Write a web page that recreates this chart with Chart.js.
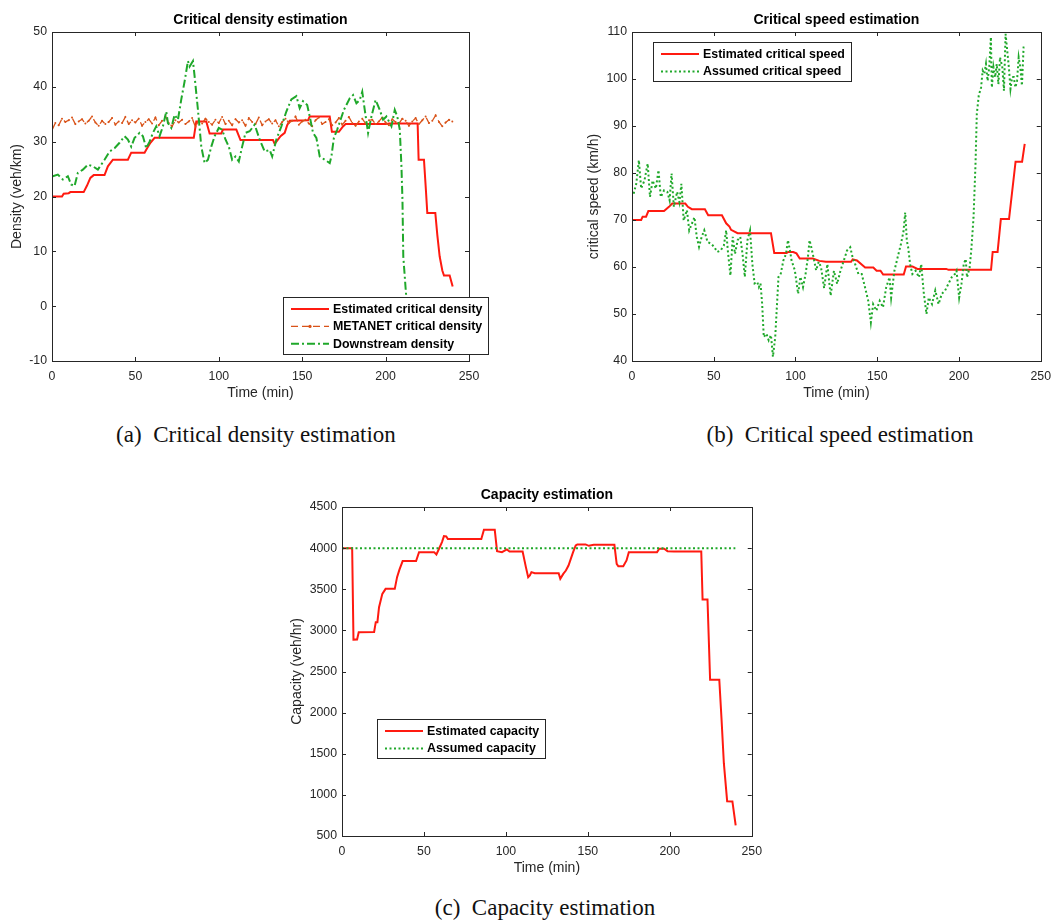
<!DOCTYPE html>
<html>
<head>
<meta charset="utf-8">
<title>Critical density, speed and capacity estimation</title>
<script src="https://cdn.jsdelivr.net/npm/chart.js@4.4.0/dist/chart.umd.min.js"></script>
<style>
  body { margin: 0; background: #fff; overflow: hidden; }
  #page { position: relative; width: 1059px; height: 923px; }
  canvas { position: absolute; }
  .caption {
    position: absolute;
    width: 420px;
    text-align: center;
    font-family: "Liberation Serif", "DejaVu Serif", serif;
    font-size: 23px;
    line-height: 26px;
    color: #111;
    white-space: nowrap;
  }
</style>
</head>
<body>
<div id="page">
  <canvas id="densityChart" width="490" height="410" style="left:0;top:0"></canvas>
  <canvas id="speedChart" width="489" height="410" style="left:570px;top:0"></canvas>
  <canvas id="capacityChart" width="490" height="410" style="left:280px;top:475px"></canvas>
  <div class="caption" style="left:46px;top:422px">(a)&ensp;Critical density estimation</div>
  <div class="caption" style="left:630px;top:422px">(b)&ensp;Critical speed estimation</div>
  <div class="caption" style="left:335px;top:895px">(c)&ensp;Capacity estimation</div>
</div>
<script>
// tick labels
const timeTicks = [0, 50, 100, 150, 200, 250];
const densityTicks = [-10, 0, 10, 20, 30, 40, 50];
const speedTicks = [40, 50, 60, 70, 80, 90, 100, 110];
const capacityTicks = [500, 1000, 1500, 2000, 2500, 3000, 3500, 4000, 4500];

// (a) density, veh/km
const estDensityTime = [0, 6, 7, 10, 11, 19, 21, 23, 25, 31.5, 33.5, 36.5, 45.5, 47.5, 55.5, 57, 59, 61.5, 85, 86.5, 92.5, 94.5, 101.5, 102.5, 110.5, 113, 132.5, 133.5, 135, 137, 139.5, 141, 142.5, 153.5, 154.5, 166.5, 167.8, 172, 174, 176, 200, 202, 219.2, 219.8, 223, 224.2, 225, 229.8, 231, 232.4, 234, 235, 238.4, 240.2];
const estDensity = [20, 20, 20.5, 20.6, 20.8, 20.8, 22, 23.4, 23.9, 23.9, 25.5, 26.7, 26.7, 28, 28, 28.8, 29.8, 30.7, 30.7, 33.7, 33.7, 31.5, 31.5, 32.2, 32.2, 30.3, 30.3, 29.6, 30.2, 31, 31.6, 33, 33.8, 33.9, 34.6, 34.6, 31.8, 31.8, 32.6, 33.2, 33.2, 33.3, 33.3, 26.7, 26.7, 21, 17, 17, 13, 9.1, 6.5, 5.6, 5.6, 3.6];

const metanetTime = [0, 2, 4, 6, 8, 10, 12, 14, 16, 18, 20, 22, 24, 26, 28, 30, 32, 34, 36, 38, 40, 42, 44, 46, 48, 50, 52, 54, 56, 58, 60, 62, 64, 66, 68, 70, 72, 74, 76, 78, 80, 82, 84, 86, 88, 90, 92, 94, 96, 98, 100, 102, 104, 106, 108, 110, 112, 114, 116, 118, 120, 122, 124, 126, 128, 130, 132, 134, 136, 138, 140, 142, 144, 146, 148, 150, 152, 154, 156, 158, 160, 162, 164, 166, 168, 170, 172, 174, 176, 178, 180, 182, 184, 186, 188, 190, 192, 194, 196, 198, 200, 202, 204, 206, 208, 210, 212, 214, 216, 218, 220, 222, 224, 226, 228, 230, 232, 234, 236, 238, 240];
const metanetDensity = [32.1, 33.4, 33.0, 34.2, 33.6, 33.9, 34.4, 33.2, 33.7, 34.1,
  33.3, 33.8, 34.6, 33.5, 32.9, 33.8, 33.2, 33.6, 34.3, 33.1,
  33.7, 33.4, 34.5, 33.2, 33.9, 33.5, 34.2, 32.9, 33.6, 34.1,
  33.3, 34.4, 33.0, 33.8, 34.6, 33.4, 32.8, 33.9, 33.5, 34.0,
  33.2, 33.7, 34.3, 32.7, 33.9, 33.3, 34.2, 33.6, 33.1, 34.0,
  33.4, 34.5, 33.2, 33.8, 33.0, 34.1, 33.5, 33.9, 32.9, 34.3,
  33.6, 33.2, 34.4, 33.0, 33.7, 34.1, 33.3, 33.9, 32.8, 33.6,
  34.2, 33.4, 33.8, 34.6, 33.1, 33.7, 34.0, 33.3, 32.8, 33.9,
  34.4, 33.2, 33.6, 34.1, 33.0, 33.5, 34.3, 33.1, 33.8, 34.5,
  33.4, 32.9, 33.7, 34.2, 33.3, 33.9, 34.0, 33.2, 33.7, 34.4,
  33.5, 33.0, 34.1, 33.6, 33.3, 34.2, 33.8, 32.9, 33.7, 34.3,
  33.2, 33.9, 34.6, 33.4, 33.8, 34.8, 33.6, 32.8, 33.5, 34.0,
  33.7];

const downstreamTime = [0.5, 3.5, 6.5, 9.5, 11.5, 13.5, 15.5, 18.5, 21.5, 24.5,
  27.5, 29.5, 31.5, 34.5, 37.5, 40.5, 43.5, 45.5, 47.5, 49.5,
  52.5, 54.5, 56.5, 58.5, 60.5, 62.5, 64.5, 66.5, 68.5, 69.5,
  71.5, 73.5, 75.5, 77.5, 79.5, 81.5, 82.5, 84.5, 85.5, 87.5,
  89.5, 91.5, 93.5, 95.5, 97.5, 100, 102, 104, 106, 108,
  110, 112, 114, 116, 118.5, 121.5, 124.5, 127.5, 130.5, 132,
  134.5, 137.5, 140.5, 143.5, 146.5, 148.5, 150.5, 153, 154.5, 156.5,
  158.5, 160.5, 163.5, 166.5, 167.5, 169, 171, 173, 175, 178.5,
  180.5, 182.5, 184.5, 186, 187.5, 189.5, 191.5, 194, 196.5, 198.5,
  200.5, 203.5, 205.5, 207, 208.5, 209.5, 210.1, 210.6, 212.2, 213];
const downstreamDensity = [23.7, 24, 23.1, 23.7, 22.2, 21.9, 24.3, 24.9, 25.8, 25.5,
  24.9, 25.8, 26.7, 28.2, 28.8, 29.8, 31, 30.4, 29.1, 30.7,
  31.6, 31, 28.8, 30, 31.6, 32.8, 31, 32.8, 35.5, 33.4,
  32.5, 34.9, 34, 37.7, 41, 44.7, 43.7, 44.7, 41.9, 35.8,
  29.1, 26.1, 26.7, 29.1, 31, 32.5, 32.2, 30.4, 29.1, 26.7,
  27.3, 26.4, 29.1, 31.6, 31.9, 33.1, 30.4, 28.2, 28.5, 27.3,
  30.4, 32.8, 35.5, 37.7, 38.3, 36.1, 37.4, 36.7, 34.6, 31.6,
  30.7, 27.3, 26.7, 26.1, 27.3, 30.7, 32.2, 34, 35.8, 37.9,
  38.5, 37, 37.6, 39.1, 35.8, 31.6, 34.6, 37.6, 35.8, 34,
  34.6, 32.8, 35.8, 34.6, 32.2, 25.5, 19.5, 9.1, 2.4, 0];

// (b) speed, km/h
const estSpeedTime = [0, 5.6, 6.5, 8.6, 10, 19.6, 22.6, 24.6, 32.6, 34.2,
  36.6, 44.6, 46.6, 55, 57.6, 59.6, 60.6, 64.6, 85, 87,
  94.6, 95.6, 98.6, 100.6, 102.6, 110.6, 114.6, 118.6, 134, 135,
  137.6, 142.6, 147.6, 149.6, 152, 153.6, 166.2, 167.6, 171.6, 174.6,
  192.2, 193.6, 219.6, 220.6, 223.6, 225.6, 230.6, 234.6, 238.6, 240.2];
const estSpeed = [70, 70, 70.7, 70.7, 71.9, 71.9, 72.8, 73.5, 73.5, 72.8,
  72.3, 72.3, 71, 71, 69.3, 68.6, 67.9, 67.2, 67.2, 63,
  63, 63.2, 63.2, 62.9, 61.8, 61.8, 61.3, 61.1, 61.1, 61.6,
  61.4, 59.9, 59.9, 59.2, 59.2, 58.4, 58.4, 60.1, 60.1, 59.6,
  59.6, 59.4, 59.4, 63.2, 63.2, 70.2, 70.2, 82.4, 82.4, 86.2];

const assumedSpeedTime = [1, 2.6, 4.2, 5.6, 7.6, 9.6, 11, 12.6, 14.6, 16.2,
  17.6, 19.6, 21.6, 23, 24.2, 25.6, 27.6, 29, 30.2, 31.6,
  33.6, 35, 36.6, 38.2, 39.6, 41, 42.6, 44.2, 46.2, 48.2,
  50.2, 52.2, 54.2, 56.2, 57.6, 58.6, 60.2, 61.6, 63, 64.6,
  66.2, 67.6, 69, 70.6, 72.2, 73.6, 75, 76.6, 77.6, 78.6,
  79.6, 80.6, 82.2, 83.6, 85, 86.2, 87.6, 88.6, 89.6, 91,
  92.6, 94.2, 95.4, 96.6, 97.6, 99.6, 101.6, 103, 104.6, 106.2,
  107.6, 108.6, 109.6, 111, 112.6, 114.2, 115.6, 117.5, 119.5, 121.5,
  123.5, 125.5, 127.5, 129.5, 131.5, 133.5, 134.9, 136.5, 138.5, 140.5,
  142.5, 144.5, 146.1, 147.5, 149.5, 151.5, 153.5, 155.5, 157.5, 158.5,
  160.5, 162.5, 164.5, 166.1, 167.1, 168.1, 168.9, 170.1, 171.5, 173.5,
  175.5, 176.9, 178.5, 180.1, 181.5, 183.5, 185.5, 187.5, 189.5, 191.5,
  193.5, 195.5, 197.5, 198.5, 200.1, 201.5, 202.9, 204.1, 204.9, 206.5,
  207.5, 208.9, 210.1, 210.9, 212.1, 213.5, 214.5, 215.5, 216.5, 217.5,
  218.5, 219.5, 220.1, 221.1, 222.1, 223.1, 224.1, 225.1, 226.5, 227.5,
  228.5, 229.5, 230.5, 231.5, 232.5, 233.5, 234.5, 235.5, 236.5, 237.5,
  238.5, 239.5, 240];
const assumedSpeed = [75.6, 77.7, 82.7, 76.7, 78.4, 82, 74.9, 78.4, 76.7, 80.6,
  74.9, 76.3, 76, 74.2, 79.9, 72.8, 76, 73.8, 77.7, 69.9,
  72.1, 67.8, 69.2, 70.6, 66.4, 64.3, 66.4, 67.8, 65.3, 65,
  64.3, 63.2, 63.5, 64.6, 67.8, 63.5, 58.2, 66.4, 62.8, 65.7,
  66.4, 62.8, 57.9, 65.7, 67.8, 60.7, 56.5, 56.8, 55.7, 56.5,
  52.2, 45.1, 45.8, 44.4, 45.5, 40.9, 45.1, 51.5, 57.9, 58.6,
  61.4, 62.8, 65.7, 63.5, 61.4, 59.3, 54.3, 57.9, 55.7, 58.6,
  62.1, 65.7, 64.3, 62.1, 59.3, 61.1, 60, 55.5, 60.6, 53.9,
  59.2, 56.4, 59.2, 61.3, 63.5, 64.2, 62.1, 60.6, 58.5, 58.5,
  55.7, 52.8, 48.2, 52.1, 50.7, 52.8, 51.4, 55.7, 57.8, 53.5,
  59.2, 62.1, 64.9, 67.7, 71.6, 65.6, 64.2, 60.6, 58.5, 59.2,
  57.8, 60.6, 54.3, 50, 53.5, 52.1, 55, 52.1, 54.3, 55,
  56.4, 57.8, 58.5, 59.2, 53.5, 56.4, 60.6, 61.7, 57.8, 59.9,
  63.5, 70.6, 81.9, 92.6, 96.5, 98.2, 101.8, 101.1, 103.2, 99.6,
  102.5, 108.9, 98.2, 102.5, 100.4, 103.2, 98.9, 104.6, 102.5, 97.5,
  109.6, 106, 102.5, 97.9, 100.4, 100.4, 98.2, 99.6, 104.6, 102.5,
  98.6, 106.7, 106.7];

// (c) capacity, veh/hr
const estCapacityTime = [0, 6.2, 7, 9.2, 10.2, 19.6, 20.6, 21.6, 22.6, 24.6,
  26.6, 32.2, 33.6, 35, 37, 45.2, 47, 56.2, 57.6, 59.2,
  61, 62.2, 63.6, 64.6, 85, 86.6, 93.2, 94.6, 97.6, 100.6,
  102.2, 110.2, 112.2, 113.6, 114.6, 115.6, 117.6, 132.2, 133.2, 135,
  136.6, 138.2, 139.6, 141, 142.6, 143.6, 148.6, 150.6, 153.6, 166.2,
  167.6, 168.6, 171.6, 173.6, 175, 192.2, 193.6, 196.6, 198.6, 202.6,
  219.2, 220, 223, 224.6, 230.2, 231.6, 233, 235, 238.2, 240.2];
const estCapacity = [4000, 4000, 2888, 2890, 2977, 2980, 3100, 3100, 3281, 3444,
  3505, 3505, 3647, 3736, 3842, 3842, 3951, 3951, 3923, 3992,
  4073, 4146, 4142, 4110, 4110, 4223, 4223, 3963, 3951, 3984,
  3959, 3959, 3769, 3647, 3667, 3708, 3696, 3696, 3627, 3687,
  3728, 3789, 3870, 3951, 4032, 4045, 4045, 4028, 4040, 4040,
  3809, 3780, 3780, 3850, 3951, 3951, 3992, 3992, 3963, 3959,
  3959, 3375, 3375, 2400, 2400, 1909, 1382, 923, 920, 630];

const assumedCapacityTime = [0, 240];
const assumedCapacity = [4000, 4000];

const RED = '#ff1a10';
const ORANGE = '#d95319';
const GREEN = '#1fa82a';
const AXIS = '#262626';

Chart.defaults.font.family = '"Liberation Sans", Arial, Helvetica, sans-serif';
Chart.defaults.color = AXIS;

const toPoints = (xs, ys) => xs.map((x, i) => ({ x: x, y: ys[i] }));

// box around the axes with inward tick marks on all four sides
const boxFrame = {
  id: 'boxFrame',
  afterDatasetsDraw(chart) {
    const { ctx, chartArea: a, scales: { x, y } } = chart;
    ctx.save();
    ctx.strokeStyle = AXIS;
    ctx.lineWidth = 1;
    ctx.beginPath();
    x.ticks.forEach(t => {
      const px = Math.round(x.getPixelForValue(t.value)) + 0.5;
      ctx.moveTo(px, a.bottom); ctx.lineTo(px, a.bottom - 4);
      ctx.moveTo(px, a.top); ctx.lineTo(px, a.top + 4);
    });
    y.ticks.forEach(t => {
      const py = Math.round(y.getPixelForValue(t.value)) + 0.5;
      ctx.moveTo(a.left, py); ctx.lineTo(a.left + 4, py);
      ctx.moveTo(a.right, py); ctx.lineTo(a.right - 4, py);
    });
    ctx.stroke();
    ctx.strokeRect(Math.round(a.left) + 0.5, Math.round(a.top) + 0.5,
      Math.round(a.width), Math.round(a.height));
    ctx.restore();
  }
};

// boxed legend placed at a fixed spot over the plot
const boxLegend = {
  id: 'boxLegend',
  afterDraw(chart, args, opts) {
    const { ctx } = chart;
    const sets = chart.data.datasets;
    ctx.save();
    ctx.font = 'bold 12.4px "Liberation Sans", Arial, sans-serif';
    const textW = Math.max(...sets.map(d => ctx.measureText(d.label).width));
    const w = Math.round(50 + textW + 6);
    const h = Math.round(22 + 17.4 * (sets.length - 1));
    ctx.fillStyle = '#fff';
    ctx.fillRect(opts.x, opts.y, w, h);
    ctx.strokeStyle = AXIS;
    ctx.lineWidth = 1;
    ctx.strokeRect(opts.x + 0.5, opts.y + 0.5, w, h);
    sets.forEach((d, i) => {
      const cy = opts.y + 12 + 17.4 * i;
      ctx.strokeStyle = d.borderColor;
      ctx.lineWidth = d.borderWidth;
      ctx.setLineDash(d.borderDash || []);
      ctx.beginPath();
      ctx.moveTo(opts.x + 8, cy);
      ctx.lineTo(opts.x + 46, cy);
      ctx.stroke();
      ctx.setLineDash([]);
      if (d.pointRadius > 0) {
        ctx.fillStyle = d.borderColor;
        ctx.beginPath();
        ctx.arc(opts.x + 27, cy, 1.6, 0, Math.PI * 2);
        ctx.fill();
      }
      ctx.fillStyle = '#000';
      ctx.textBaseline = 'middle';
      ctx.fillText(d.label, opts.x + 50, cy + 0.5);
    });
    ctx.restore();
  }
};

function panel(id, cfg) {
  return new Chart(id, {
    type: 'line',
    data: { datasets: cfg.datasets },
    options: {
      responsive: false,
      animation: false,
      events: [],
      layout: { padding: { right: cfg.padRight } },
      plugins: {
        legend: { display: false },
        tooltip: { enabled: false },
        title: {
          display: true,
          text: cfg.title,
          fullSize: false,
          color: '#000',
          font: { size: 14, weight: 'bold' },
          padding: { top: 12, bottom: 3.2 }
        },
        boxLegend: cfg.legendAt
      },
      scales: {
        x: {
          type: 'linear',
          min: timeTicks[0],
          max: timeTicks[timeTicks.length - 1],
          afterBuildTicks: s => { s.ticks = timeTicks.map(v => ({ value: v })); },
          afterFit: s => { s.height = 49; },
          grid: { display: false, drawTicks: false },
          border: { display: false },
          ticks: { padding: 8, color: AXIS, font: { size: 12.3 }, maxRotation: 0, autoSkip: false, callback: v => String(v) },
          title: { display: true, text: 'Time (min)', color: AXIS, font: { size: 14 }, padding: { top: 0, bottom: 8.3 } }
        },
        y: {
          type: 'linear',
          min: cfg.yTicks[0],
          max: cfg.yTicks[cfg.yTicks.length - 1],
          afterBuildTicks: s => { s.ticks = cfg.yTicks.map(v => ({ value: v })); },
          afterFit: s => { s.width = cfg.yWidth; },
          grid: { display: false, drawTicks: false },
          border: { display: false },
          ticks: { padding: 5, color: AXIS, font: { size: 12.3 }, autoSkip: false, callback: v => String(v) },
          title: { display: true, text: cfg.yTitle, color: AXIS, font: { size: 14 }, padding: { top: cfg.yTitlePad, bottom: 0 } }
        }
      }
    },
    plugins: [boxFrame, boxLegend]
  });
}

panel('densityChart', {
  title: 'Critical density estimation',
  yTitle: 'Density (veh/km)',
  yTicks: densityTicks,
  yWidth: 52,
  yTitlePad: 9.1,
  padRight: 21,
  legendAt: { x: 283, y: 297 },
  datasets: [
    { label: 'Estimated critical density', data: toPoints(estDensityTime, estDensity),
      borderColor: RED, borderWidth: 2, pointRadius: 0, order: 3 },
    { label: 'METANET critical density', data: toPoints(metanetTime, metanetDensity),
      borderColor: ORANGE, borderWidth: 1.3, borderDash: [7, 4], pointRadius: 1,
      pointBackgroundColor: ORANGE, pointBorderWidth: 0, order: 2 },
    { label: 'Downstream density', data: toPoints(downstreamTime, downstreamDensity),
      borderColor: GREEN, borderWidth: 2, borderDash: [8, 3, 2, 3], pointRadius: 0, order: 1 }
  ]
});

panel('speedChart', {
  title: 'Critical speed estimation',
  yTitle: 'critical speed (km/h)',
  yTicks: speedTicks,
  yWidth: 62,
  yTitlePad: 15.8,
  padRight: 10,
  legendAt: { x: 83, y: 42 },
  datasets: [
    { label: 'Estimated critical speed', data: toPoints(estSpeedTime, estSpeed),
      borderColor: RED, borderWidth: 2, pointRadius: 0, order: 2 },
    { label: 'Assumed critical speed', data: toPoints(assumedSpeedTime, assumedSpeed),
      borderColor: GREEN, borderWidth: 2, borderDash: [2, 2.5], pointRadius: 0, order: 1 }
  ]
});

panel('capacityChart', {
  title: 'Capacity estimation',
  yTitle: 'Capacity (veh/hr)',
  yTicks: capacityTicks,
  yWidth: 62,
  yTitlePad: 9.1,
  padRight: 11,
  legendAt: { x: 97, y: 244 },
  datasets: [
    { label: 'Estimated capacity', data: toPoints(estCapacityTime, estCapacity),
      borderColor: RED, borderWidth: 2, pointRadius: 0, order: 2 },
    { label: 'Assumed capacity', data: toPoints(assumedCapacityTime, assumedCapacity),
      borderColor: GREEN, borderWidth: 2, borderDash: [2, 2.5], pointRadius: 0, order: 1 }
  ]
});
</script>
</body>
</html>
